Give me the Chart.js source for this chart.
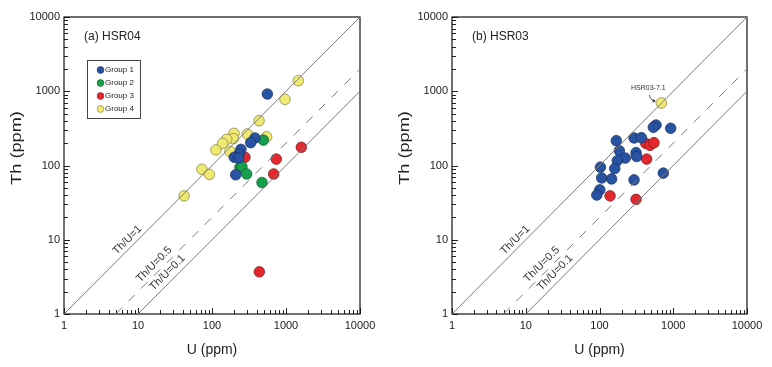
<!DOCTYPE html>
<html><head><meta charset="utf-8">
<script src="https://cdn.jsdelivr.net/npm/chart.js@4/dist/chart.umd.min.js"></script>
<style>
html,body{margin:0;padding:0;background:#fff;}
#wrap{position:relative;width:772px;height:367px;background:#fff;}
.panel{position:absolute;top:0;width:386px;height:367px;}
</style></head><body>
<div id="wrap">
<div class="panel" style="left:0"><canvas id="c1" width="386" height="367"></canvas></div>
<div class="panel" style="left:386px"><canvas id="c2" width="386" height="367"></canvas></div>
</div>
<script>
// ---------- data ----------
const axisTickLabels = [1, 10, 100, 1000, 10000];
const groupNames = ['Group 1', 'Group 2', 'Group 3', 'Group 4'];
const groupColors = ['#2753a2', '#16a04c', '#e5282d', '#f1ea72'];
const groupBorders = ['#1b2f5c', '#0e5a2c', '#7a1517', '#7d7a3a'];

// (a) HSR04
const a_g1_U  = [560, 381, 333, 246, 232, 200, 229, 209];
const a_g1_Th = [918, 235, 203, 165, 143, 129, 126, 75];
const a_g2_U  = [494, 239, 254, 294, 474];
const a_g2_Th = [220, 95, 96, 77, 59];
const a_g3_U  = [279, 1610, 739, 682, 436];
const a_g3_Th = [129, 176, 122, 77, 3.7];
const a_g4_U  = [1466, 969, 432, 548, 300, 198, 194, 158, 139, 113, 175, 73, 92, 42];
const a_g4_Th = [1387, 779, 401, 244, 266, 271, 230, 225, 199, 162, 155, 89, 76, 39];

// (b) HSR03
const b_g1_U  = [584, 537, 923, 169, 294, 369, 186, 313, 319, 224, 174, 103, 161, 107, 146, 294, 733, 101, 92];
const b_g1_Th = [351, 327, 317, 216, 235, 237, 158, 149, 132, 126, 116, 95, 91, 68, 66, 64, 79, 47, 40];
const b_g3_U  = [423, 484, 548, 436, 139, 313];
const b_g3_Th = [199, 187, 203, 122, 39, 35];
const b_g4_U  = [689];
const b_g4_Th = [695];
const b_annotationLabel = 'HSR03-7.1';

// reference Th/U lines (ratio as drawn) and their labels
const refRatios = [1, 0.2, 0.1];
const refDashed = [false, true, false];
const refLabels = ['Th/U=1', 'Th/U=0.5', 'Th/U=0.1'];
const refLabelU  = [7.2, 16.5, 25];
const refLabelTh = [9.9, 4.65, 3.6];

// ---------- helpers ----------
const FONT = '"Liberation Sans", Arial, Helvetica, sans-serif';
const zip = (u, t) => u.map((v, i) => ({x: v, y: t[i]}));

function refLineDatasets() {
  return refRatios.map((r, i) => ({
    type: 'line',
    data: [{x: Math.max(1, 1 / r), y: Math.max(1, r)}, {x: 10000, y: 10000 * r}],
    borderColor: '#7a7a7a', borderWidth: 1,
    borderDash: refDashed[i] ? [9, 9] : [],
    pointRadius: 0, fill: false, showLine: true
  }));
}

function groupDataset(gi, U, Th) {
  return {
    type: 'scatter', label: groupNames[gi], data: zip(U, Th),
    backgroundColor: groupColors[gi], borderColor: groupBorders[gi],
    borderWidth: 0.7, pointRadius: 5.3, pointHoverRadius: 5.3
  };
}

const tickMarks = [];
for (let d = 0; d < 4; d++) for (let k = 1; k <= 9; k++) tickMarks.push({v: k * Math.pow(10, d), major: k === 1});
tickMarks.push({v: 10000, major: true});

const framePlugin = {
  id: 'frameTicks',
  beforeDatasetsDraw(chart) {
    const {ctx, chartArea: a, scales: {x, y}} = chart;
    ctx.save();
    ctx.strokeStyle = '#222'; ctx.lineWidth = 1;
    ctx.beginPath();
    tickMarks.forEach(t => {
      const len = t.major ? 6 : 4;
      const px = Math.round(x.getPixelForValue(t.v)) + 0.5;
      ctx.moveTo(px, a.bottom); ctx.lineTo(px, a.bottom - len);
      const py = Math.round(y.getPixelForValue(t.v)) + 0.5;
      ctx.moveTo(a.left, py); ctx.lineTo(a.left + len, py);
    });
    ctx.stroke();
    ctx.lineWidth = 1.2; ctx.strokeStyle = '#111';
    ctx.strokeRect(a.left, a.top, a.right - a.left, a.bottom - a.top);
    ctx.restore();
  }
};

function textPlugin(opts) {
  return {
    id: 'texts_' + opts.key,
    afterDatasetsDraw(chart) {
      const {ctx, chartArea: a, scales: {x, y}} = chart;
      ctx.save();
      // reference line labels
      ctx.fillStyle = '#333'; ctx.font = '11px ' + FONT;
      ctx.textAlign = 'center'; ctx.textBaseline = 'middle';
      refLabels.forEach((lab, i) => {
        const px = x.getPixelForValue(refLabelU[i]), py = y.getPixelForValue(refLabelTh[i]);
        ctx.save(); ctx.translate(px, py); ctx.rotate(-Math.PI / 4);
        ctx.fillText(lab, 0, 0); ctx.restore();
      });
      // panel title
      ctx.fillStyle = '#222'; ctx.font = '12px ' + FONT;
      ctx.textAlign = 'left';
      ctx.fillText(opts.title, a.left + 20, a.top + 20);
      // axis titles
      ctx.font = '14px ' + FONT; ctx.textAlign = 'center';
      ctx.fillText('U (ppm)', (a.left + a.right) / 2, 350);
      ctx.save(); ctx.translate(opts.yTitleX, 148); ctx.rotate(-Math.PI / 2);
      ctx.scale(1.3, 1);
      ctx.fillText('Th (ppm)', 0, 0); ctx.restore();
      // legend
      if (opts.legend) {
        const bx = a.left + 23.5, by = 60.5, bw = 53, bh = 58;
        ctx.strokeStyle = '#444'; ctx.lineWidth = 1;
        ctx.strokeRect(bx, by, bw, bh);
        ctx.font = '8px ' + FONT; ctx.textAlign = 'left';
        groupNames.forEach((g, i) => {
          const cy = by + 9.5 + i * 13;
          ctx.beginPath(); ctx.arc(bx + 13, cy, 3.4, 0, Math.PI * 2);
          ctx.fillStyle = groupColors[i]; ctx.fill();
          ctx.strokeStyle = groupBorders[i]; ctx.lineWidth = 0.6; ctx.stroke();
          ctx.fillStyle = '#222'; ctx.fillText(g, bx + 17.5, cy);
        });
      }
      // annotation
      if (opts.annotate) {
        const p = opts.annotate;
        const px = x.getPixelForValue(p.x), py = y.getPixelForValue(p.y);
        ctx.fillStyle = '#333'; ctx.font = '7px ' + FONT; ctx.textAlign = 'center';
        ctx.fillText(opts.annotateLabel, px - 13, py - 15);
        ctx.strokeStyle = '#333'; ctx.lineWidth = 0.8;
        ctx.beginPath(); ctx.moveTo(px - 12, py - 8);
        ctx.quadraticCurveTo(px - 11, py - 2.5, px - 6.5, py - 2); ctx.stroke();
        ctx.beginPath(); ctx.moveTo(px - 5.5, py - 2); ctx.lineTo(px - 8.5, py - 4); ctx.lineTo(px - 8.5, py - 0.3); ctx.closePath();
        ctx.fillStyle = '#333'; ctx.fill();
      }
      ctx.restore();
    }
  };
}

function makePanel(id, datasets, yWidth, rightPad, opts) {
  const tickCfg = {
    font: {family: FONT, size: 11}, color: '#222', autoSkip: false, maxRotation: 0,
    callback: v => String(v)
  };
  return new Chart(document.getElementById(id), {
    data: {datasets},
    options: {
      responsive: false, animation: false, devicePixelRatio: 1,
      layout: {padding: {left: 0, top: 17, right: rightPad, bottom: 0}},
      plugins: {legend: {display: false}, tooltip: {enabled: false}},
      scales: {
        x: {type: 'logarithmic', min: 1, max: 10000,
            afterBuildTicks: s => { s.ticks = axisTickLabels.map(v => ({value: v})); },
            afterFit: s => { s.height = 53; },
            grid: {display: false, drawTicks: false}, border: {display: false},
            ticks: Object.assign({padding: 5}, tickCfg)},
        y: {type: 'logarithmic', min: 1, max: 10000,
            afterBuildTicks: s => { s.ticks = axisTickLabels.map(v => ({value: v})); },
            afterFit: s => { s.width = yWidth; },
            grid: {display: false, drawTicks: false}, border: {display: false},
            ticks: Object.assign({padding: 4}, tickCfg)}
      }
    },
    plugins: [framePlugin, textPlugin(opts)]
  });
}

makePanel('c1', [
  ...refLineDatasets(),
  groupDataset(0, a_g1_U, a_g1_Th),
  groupDataset(1, a_g2_U, a_g2_Th),
  groupDataset(2, a_g3_U, a_g3_Th),
  groupDataset(3, a_g4_U, a_g4_Th)
], 64, 26, {key: 'a', title: '(a) HSR04', legend: true, yTitleX: 17.5});

makePanel('c2', [
  ...refLineDatasets(),
  groupDataset(0, b_g1_U, b_g1_Th),
  groupDataset(2, b_g3_U, b_g3_Th),
  groupDataset(3, b_g4_U, b_g4_Th)
], 66, 25, {key: 'b', title: '(b) HSR03', legend: false, yTitleX: 19,
  annotate: {x: b_g4_U[0], y: b_g4_Th[0]}, annotateLabel: b_annotationLabel});
</script>
</body></html>
